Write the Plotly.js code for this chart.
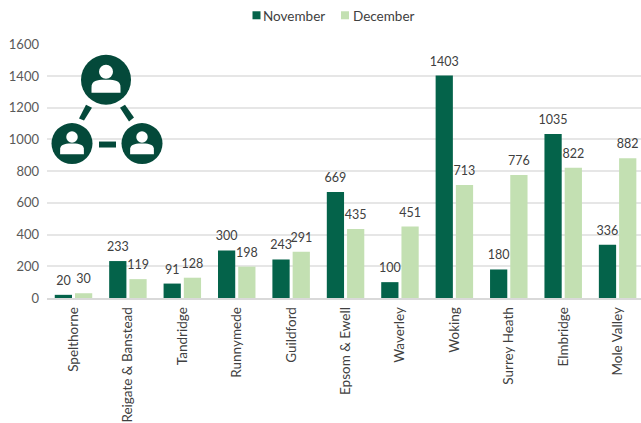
<!DOCTYPE html>
<html>
<head>
<meta charset="utf-8">
<script src="https://cdn.plot.ly/plotly-3.0.1.min.js"></script>
<style>html,body{margin:0;padding:0;background:#fff;overflow:hidden}</style>
</head>
<body>
<div id="chart" style="width:641px;height:423px"></div>
<script>
const boroughs = ["Spelthorne","Reigate & Banstead","Tandridge","Runnymede","Guildford","Epsom & Ewell","Waverley","Woking","Surrey Heath","Elmbridge","Mole Valley"];
const november = [20,233,91,300,243,669,100,1403,180,1035,336];
const december = [30,119,128,198,291,435,451,713,776,822,882];
const yTicks = [0,200,400,600,800,1000,1200,1400,1600];

const W = 641, H = 423;
const DARK = "#04634a", LIGHT = "#c3e0b2", ICON = "#04493a", TEXT = "#404040";
const M = {l:47, r:0, t:6, b:125};
const FONT = "Lato, 'Open Sans', sans-serif";
const plotH = H - M.t - M.b;

// Pixel helpers for the network emblem drawn in paper coordinates
const fx = x => (x - M.l) / (W - M.l - M.r);
const fy = y => (H - M.b - y) / plotH;
const circle = (cx, cy, r, fill) => ({type:"circle", xref:"paper", yref:"paper",
  x0:fx(cx-r), x1:fx(cx+r), y0:fy(cy+r), y1:fy(cy-r), fillcolor:fill, line:{width:0}, layer:"above"});
const poly = (pts, fill) => ({type:"path", xref:"paper", yref:"paper",
  path:"M" + pts.map(p => fx(p[0]) + "," + fy(p[1])).join("L") + "Z",
  fillcolor:fill, line:{width:0}, layer:"above"});

// One person: round head with a flat-bottomed, rounded pair of shoulders
function person(cx, cy, s) {
  const hw = 14.5*s, base = cy+13*s, rise = 13*s;
  const pts = [];
  for (let a=180; a<=360; a+=10) {
    const r = a*Math.PI/180, c = Math.cos(r), d = Math.sin(r);
    pts.push([cx + hw*Math.sign(c)*Math.pow(Math.abs(c),0.7),
              base - 5*s + (rise-5*s)*Math.sign(d)*Math.pow(Math.abs(d),0.7)]);
  }
  pts.push([cx+hw,base],[cx-hw,base]);
  return [circle(cx, cy-8*s, 7*s, "#fff"), poly(pts, "#fff")];
}

const emblem = [
  circle(106, 79, 25, ICON), circle(72, 143, 20.5, ICON), circle(142, 143, 20.5, ICON),
  ...person(106, 79, 1), ...person(72, 143, 0.82), ...person(142, 143, 0.82),
  poly([[86,104],[92,107],[84,120],[79,118]], ICON),
  poly([[120,107],[125,104],[134,117],[129,121]], ICON),
  poly([[99,141],[116,141],[116,147],[99,147]], ICON)
];

const bar = (name, y, color) => ({type:"bar", name, x:boroughs, y, marker:{color, line:{width:0}},
  text:y.map(String), textposition:"outside", cliponaxis:false, constraintext:"none",
  textfont:{family:FONT, size:12.5, color:TEXT}, hoverinfo:"x+y+name"});

Plotly.newPlot("chart", [bar("November", november, DARK), bar("December", december, LIGHT)], {
  width:W, height:H, margin:M, paper_bgcolor:"#fff", plot_bgcolor:"#fff",
  barmode:"group", bargap:0.256, bargroupgap:0.148,
  font:{family:FONT, size:13, color:TEXT},
  showlegend:true,
  legend:{orientation:"h", xref:"paper", yref:"paper", x:fx(240), xanchor:"left", y:fy(15), yanchor:"middle",
    font:{family:FONT, size:13.5, color:TEXT}, itemwidth:30, traceorder:"normal", bgcolor:"rgba(0,0,0,0)"},
  xaxis:{type:"category", categoryorder:"array", categoryarray:boroughs, range:[-0.487,10.43],
    tickangle:-90, ticks:"", showgrid:false, showline:true, linecolor:"#d9d9d9", linewidth:1.5,
    ticklabelstandoff:2, automargin:false, tickfont:{family:FONT, size:13.5, color:TEXT}, fixedrange:true},
  yaxis:{domain:[0, fy(43.5)], range:[0,1600], tickvals:yTicks, ticktext:yTicks.map(String), ticks:"", showline:false,
    gridcolor:"#e6e6e6", gridwidth:1.5, zeroline:false, automargin:false, ticklabelstandoff:7,
    tickfont:{family:FONT, size:13, color:"#595959"}, fixedrange:true},
  shapes:emblem
}, {displayModeBar:false}).then(gd => {
  // Tighten the legend entries and lift the value labels a little off the bars
  const swatchX = [256.5, 345], textX = [263, 353];
  const legend = gd.querySelector(".legend");
  const box = legend.getBoundingClientRect();
  legend.querySelectorAll(".traces").forEach((g, i) => {
    const t = g.getAttribute("transform");
    const tx = +/translate\(([-\d.]+)/.exec(t)[1];
    const left = box.left + tx;
    const label = g.querySelector(".legendtext");
    label.setAttribute("x", textX[i] - left);
    const sw = g.querySelector(".legendpoints");
    const mark = sw.querySelector("path");
    mark.setAttribute("d", "M4,4H-4V-4H4Z");
    mark.setAttribute("transform", "translate(" + (swatchX[i] - left) + ",0)");
  });
  gd.querySelectorAll(".bartext").forEach(t => {
    t.setAttribute("transform", "translate(0,-4) " + (t.getAttribute("transform") || ""));
  });
});
</script>
</body>
</html>
